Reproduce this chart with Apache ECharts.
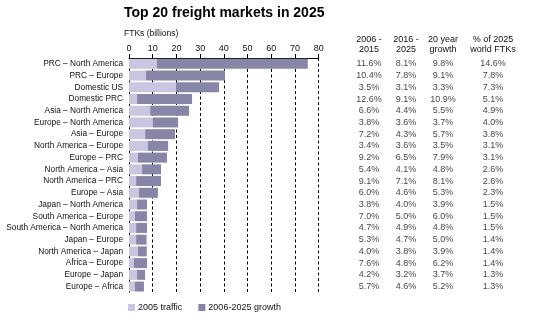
<!DOCTYPE html>
<html>
<head>
<meta charset="utf-8">
<script src="https://cdn.jsdelivr.net/npm/echarts@6/dist/echarts.min.js"></script>
<style>
  html, body { margin: 0; padding: 0; background: #fff; }
  #chart { width: 542px; height: 327px; }
</style>
</head>
<body>
<div id="chart"></div>
<script>
// Market pairs, largest first
const markets = [
  'PRC – North America', 'PRC – Europe', 'Domestic US', 'Domestic PRC',
  'Asia – North America', 'Europe – North America', 'Asia – Europe',
  'North America – Europe', 'Europe – PRC', 'North America – Asia',
  'North America – PRC', 'Europe – Asia', 'Japan – North America',
  'South America – Europe', 'South America – North America', 'Japan – Europe',
  'North America – Japan', 'Africa – Europe', 'Europe – Japan', 'Europe – Africa'
];

// FTKs (billions): 2005 base and the addition through 2025
const traffic2005 = [11.8, 7.2, 19.8, 3.4, 8.9, 10.1, 6.8, 8.0, 3.8, 5.5,
                     3.0, 4.2, 3.4, 2.5, 3.0, 3.0, 3.8, 2.1, 3.4, 2.5];
const traffic2025 = [75.4, 40.5, 38.0, 26.6, 25.3, 20.7, 19.4, 16.5, 16.0, 13.5,
                     13.5, 12.2, 7.6, 7.6, 7.6, 7.4, 7.5, 7.6, 6.8, 6.3];
const growth = traffic2025.map((v, i) => +(v - traffic2005[i]).toFixed(1));

// Annual growth rates and share columns (%)
const growth0615 = [11.6, 10.4, 3.5, 12.6, 6.6, 3.8, 7.2, 3.4, 9.2, 5.4,
                    9.1, 6.0, 3.8, 7.0, 4.7, 5.3, 4.0, 7.6, 4.2, 5.7];
const growth1625 = [8.1, 7.8, 3.1, 9.1, 4.4, 3.6, 4.3, 3.6, 6.5, 4.1,
                    7.1, 4.6, 4.0, 5.0, 4.9, 4.7, 3.8, 4.8, 3.2, 4.6];
const growth20yr = [9.8, 9.1, 3.3, 10.9, 5.5, 3.7, 5.7, 3.5, 7.9, 4.8,
                    8.1, 5.3, 3.9, 6.0, 4.8, 5.0, 3.9, 6.2, 3.7, 5.2];
const worldShare = [14.6, 7.8, 7.3, 5.1, 4.9, 4.0, 3.8, 3.1, 3.1, 2.6,
                    2.6, 2.3, 1.5, 1.5, 1.5, 1.4, 1.4, 1.4, 1.3, 1.3];

const tableColumns = [growth0615, growth1625, growth20yr, worldShare];
const tableHeaders = ['2006 -\n2015', '2016 -\n2025', '20 year\ngrowth', '% of 2025\nworld FTKs'];

// Axis ticks
const xTicks = [0, 10, 20, 30, 40, 50, 60, 70, 80];

// Layout of the table columns (position along the table's own x scale)
const tableColX = [19, 56, 93, 143];

const FONT = '"Liberation Sans", Arial, Helvetica, sans-serif';
const LIGHT = '#c8c6e0';
const DARK = '#8886a6';

const chart = echarts.init(document.getElementById('chart'), null, { renderer: 'canvas' });

// Table cells, one scatter series per column
const tableSeries = tableColumns.map((col, j) => ({
  type: 'scatter',
  xAxisIndex: 1,
  yAxisIndex: 1,
  symbolSize: 0,
  silent: true,
  data: col.map((v, i) => [tableColX[j], markets[i], v]),
  label: {
    show: true,
    position: 'inside',
    fontFamily: FONT,
    fontSize: 9,
    color: '#111',
    formatter: p => p.value[2].toFixed(1) + '%'
  }
}));

chart.setOption({
  animation: false,
  backgroundColor: '#fff',
  title: {
    text: 'Top 20 freight markets in 2025',
    left: 124,
    top: 6,
    padding: 0,
    textStyle: { fontFamily: FONT, fontWeight: 'bold', fontSize: 14, color: '#000' }
  },
  legend: {
    left: 128,
    top: 303,
    padding: 0,
    itemWidth: 7,
    itemHeight: 7,
    itemGap: 16,
    icon: 'rect',
    data: ['2005 traffic', '2006-2025 growth'],
    textStyle: { fontFamily: FONT, fontSize: 9, color: '#111', padding: [0, 0, 0, -2] }
  },
  graphic: [
    {
      type: 'text', left: 124, top: 29,
      style: { text: 'FTKs (billions)', font: '8.5px ' + FONT, fill: '#111' }
    }
  ].concat(tableHeaders.map((h, j) => ({
    type: 'text',
    x: [369, 406, 443, 493][j],
    y: 35,
    style: { text: h, font: '9px ' + FONT, fill: '#111', align: 'center', lineHeight: 9.5 }
  }))),
  grid: [
    { left: 129, top: 58, width: 189.7, height: 234.4, containLabel: false, outerBoundsMode: 'none' },
    { left: 350, top: 58, width: 170, height: 234.4, containLabel: false, outerBoundsMode: 'none' }
  ],
  xAxis: [
    {
      type: 'value',
      position: 'top',
      min: 0,
      max: 80,
      interval: 10,
      axisLine: { show: true, lineStyle: { color: '#000', width: 1 } },
      axisTick: { show: true, length: 4, lineStyle: { color: '#000' } },
      axisLabel: { fontFamily: FONT, fontSize: 9, color: '#111', margin: 5 },
      splitLine: { show: true, lineStyle: { color: '#000', type: [3, 2.5], width: 1 } }
    },
    {
      type: 'value', gridIndex: 1, min: 0, max: 170, show: false
    }
  ],
  yAxis: [
    {
      type: 'category',
      inverse: true,
      data: markets,
      axisLine: { show: true, lineStyle: { color: '#000', width: 1 } },
      axisTick: { show: false },
      axisLabel: { fontFamily: FONT, fontSize: 8.3, color: '#111', margin: 6 }
    },
    {
      type: 'category', gridIndex: 1, inverse: true, data: markets, show: false
    }
  ],
  series: [
    {
      name: '2005 traffic',
      type: 'bar',
      stack: 'ftk',
      data: traffic2005,
      barWidth: 10,
      itemStyle: { color: LIGHT },
      z: 3
    },
    {
      name: '2006-2025 growth',
      type: 'bar',
      stack: 'ftk',
      data: growth,
      barWidth: 10,
      itemStyle: { color: DARK },
      z: 3
    }
  ].concat(tableSeries)
});
</script>
</body>
</html>
